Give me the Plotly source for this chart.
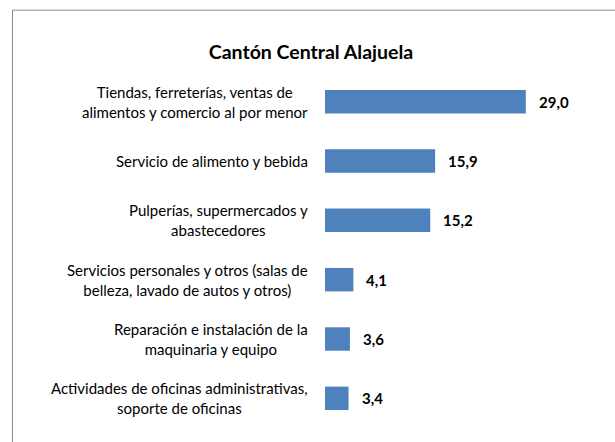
import plotly.graph_objects as go

categories = [
    "Tiendas, ferreterías, ventas de<br>alimentos y comercio al por menor",
    "Servicio de alimento y bebida",
    "Pulperías, supermercados y<br>abastecedores",
    "Servicios personales y otros (salas de<br>belleza, lavado de autos y otros)",
    "Reparación e instalación de la<br>maquinaria y equipo",
    "Actividades de oficinas administrativas,<br>soporte de oficinas",
]
values = [29.0, 15.9, 15.2, 4.1, 3.6, 3.4]
title_text = "Cantón Central Alajuela"

FONT = "Lato"
W, H = 615, 442
ML, MR, MT, MB = 325, 13, 71.5, 13.5
XMAX = 40

fig = go.Figure()
fig.add_trace(go.Bar(
    x=values, y=categories, orientation="h",
    marker=dict(color="#4F81BD", line=dict(width=0)),
    hoverinfo="skip",
))

annotations = []
for c, v in zip(categories, values):
    annotations.append(dict(
        x=0, y=c, xref="x", yref="y", text=c, showarrow=False,
        xanchor="right", yanchor="middle", align="center", xshift=-15,
        font=dict(family=FONT, size=15, color="#000000"),
    ))
    annotations.append(dict(
        x=v, y=c, xref="x", yref="y", text=f"{v:.1f}".replace(".", ","),
        showarrow=False, xanchor="left", yanchor="middle", xshift=11,
        font=dict(family=FONT, size=15, color="#000000", weight="bold"),
    ))

pw = W - ML - MR
ph = H - MT - MB
fig.add_shape(
    type="rect", xref="paper", yref="paper",
    x0=(12.5 - ML) / pw, x1=(W + 10 - ML) / pw,
    y0=1 - (H + 10 - MT) / ph, y1=1 - (9.5 - MT) / ph,
    line=dict(color="#898989", width=1), fillcolor="rgba(0,0,0,0)", layer="below",
)

fig.update_layout(
    width=W, height=H,
    margin=dict(l=ML, r=MR, t=MT, b=MB, pad=0),
    paper_bgcolor="white", plot_bgcolor="white",
    showlegend=False, bargap=0.605,
    title=dict(text=title_text, x=311 / W, xanchor="center", xref="container",
               y=1 - 52 / H, yanchor="middle", yref="container",
               font=dict(family=FONT, size=19.5, color="#000000", weight="bold")),
    xaxis=dict(range=[0, XMAX], visible=False, fixedrange=True),
    yaxis=dict(autorange="reversed", showticklabels=False, showgrid=False,
               zeroline=False, showline=False, ticks="", fixedrange=True),
    annotations=annotations,
)

fig.write_html(
    "out.html",
    config={"displayModeBar": False, "staticPlot": True},
    post_script="document.body.style.margin='0';document.body.style.overflow='hidden';",
)
